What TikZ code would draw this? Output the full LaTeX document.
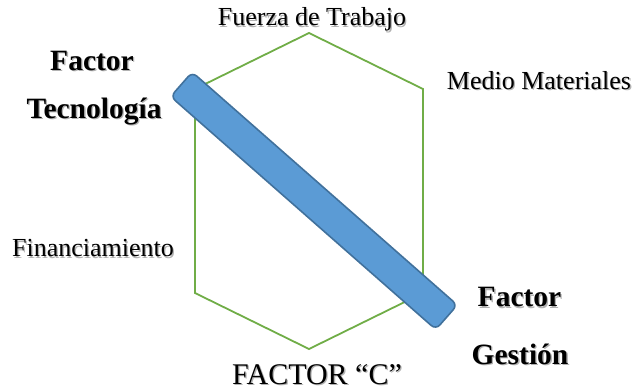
\documentclass[tikz,border=0pt]{standalone}
\usepackage{fontspec}
\setmainfont{Liberation Serif}
\usetikzlibrary{positioning}
\definecolor{hexgreen}{HTML}{70AD47}
\definecolor{barblue}{HTML}{5B9BD5}
\definecolor{barline}{HTML}{41719C}
\newcommand{\shtext}[1]{\rlap{\hspace{1.3pt}\raisebox{-1.3pt}{\textcolor{black!30}{#1}}}#1}

\begin{document}
\begin{tikzpicture}[x=1pt,y=-1pt,font=\fontsize{26}{30}\selectfont,
    every node/.style={inner sep=0pt,anchor=base}]
  \useasboundingbox (0,0) rectangle (637,391);
  \draw[hexgreen,line width=1.8pt,line join=miter]
    (309,33)--(423,89)--(423,293)--(309,349)--(195,293)--(195,89)--cycle;

  \node (fuerza) at (312,25.7) {\shtext{Fuerza de Trabajo}};
  \node (medio) at (539,89.3) {\shtext{Medio Materiales}};
  \node (finan) at (93,256.7) {\shtext{Financiamiento}};
  \node[font=\fontsize{30}{34}\selectfont] (factorc) at (317,384.3) {\shtext{FACTOR “C”}};

  \node[font=\fontsize{29.5}{33}\selectfont\bfseries] (tec1) at (92,70) {\shtext{Factor}};
  \node[font=\fontsize{29.5}{33}\selectfont\bfseries] (tec2) at (94,118.3) {\shtext{Tecnología}};
  \node[font=\fontsize{29.5}{33}\selectfont\bfseries] (ges1) at (519.5,306.7) {\shtext{Factor}};
  \node[font=\fontsize{29.5}{33}\selectfont\bfseries] (ges2) at (520,364) {\shtext{Gestión}};

  % barra diagonal
  \begin{scope}[shift={(314,200.8)},rotate=-41.3]
    \draw[barline,fill=barblue,line width=1.6pt,rounded corners=6pt]
      (-176.5pt,-16.3pt) rectangle (176.5pt,16.3pt);
  \end{scope}
\end{tikzpicture}
\end{document}
